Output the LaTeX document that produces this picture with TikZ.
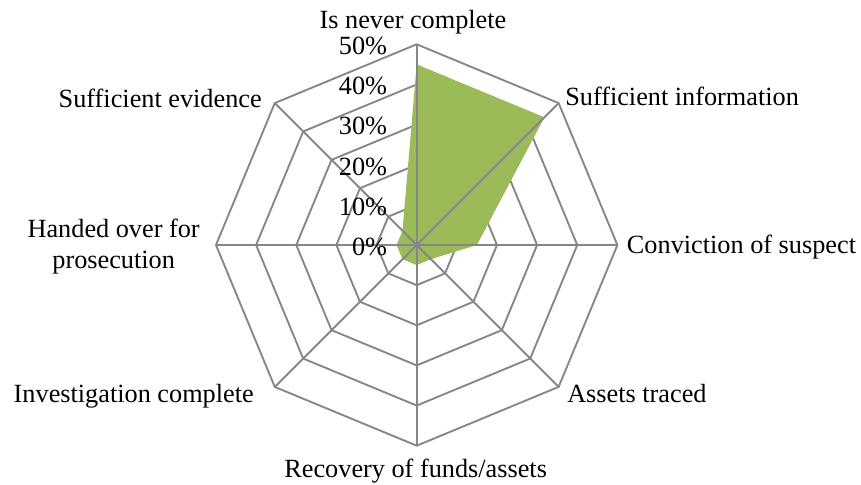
\documentclass[tikz,border=0pt]{standalone}
\usepackage{fontspec}
\setmainfont{Liberation Serif}
\definecolor{radargreen}{RGB}{155,187,89}
\definecolor{gridgray}{RGB}{134,134,134}

\begin{document}
\begin{tikzpicture}[x=0.75pt, y=0.75pt,
 grid/.style={draw=gridgray, line width=1.4pt},
 lbl/.style={inner sep=0pt, font=\fontsize{19.7}{23.3}\selectfont},
 tick/.style={lbl, anchor=base east}]
 \useasboundingbox (-416.7,-240) rectangle (444.3,245);
 \coordinate (O) at (0,0);
 % ecken der achsen (50%)
 \foreach \a [count=\i] in {90,45,0,-45,-90,-135,180,135}
  \coordinate (v\i) at (\a:200.7);
 % ringe 10% ... 50%
 \foreach \r in {1,...,5}
  \draw[grid] (90:{40.14*\r}) \foreach \a in {45,0,-45,-90,-135,180,135} { -- ({\a}:{40.14*\r}) } -- cycle;
 % daten
 \fill[radargreen]
 (90:180.6) -- (45:180.6) -- (0:60.2) -- (-45:20.1)
 -- (-90:20.1) -- (-135:20.1) -- (180:20.1) -- (135:20.1) -- cycle;
 \foreach \i in {1,...,8}
  \draw[grid] (O) -- (v\i);
 \foreach \p in {0,10,...,50}
  \node[tick] (t\p) at (-29.4, 4.014*\p - 10.3) {\p\%};
 \node[lbl, anchor=base] (never) at (-3.7,216.7) {Is never complete};
 \node[lbl, anchor=base west] (info) at (148.3,139) {Sufficient information};
 \node[lbl, anchor=base west] (conv) at (210,-8.3) {Conviction of suspect};
 \node[lbl, anchor=base west] (assets) at (150.3,-157) {Assets traced};
 \node[lbl, anchor=base] (recov) at (-1,-232.7) {Recovery of funds/assets};
 \node[lbl, anchor=base east] (invest) at (-162.7,-157) {Investigation complete};
 \node[lbl, anchor=base east, align=center] (handed) at (-216.7,-23.3) {Handed over for\\prosecution};
 \node[lbl, anchor=base east] (evid) at (-154.7,137.3) {Sufficient evidence};
\end{tikzpicture}
\end{document}
